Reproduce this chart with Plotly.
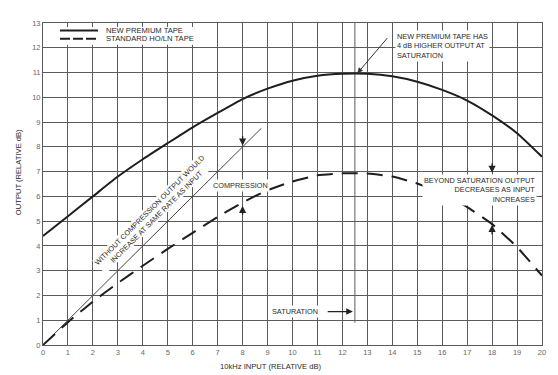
import plotly.graph_objects as go

# ---- data ----
input_db = list(range(0, 21))
premium_out = [4.4, 5.2, 6.0, 6.8, 7.5, 8.15, 8.79, 9.37, 9.93, 10.35, 10.67,
               10.87, 10.95, 10.95, 10.85, 10.63, 10.3, 9.87, 9.27, 8.55, 7.6]
standard_out = [0.0, 0.92, 1.75, 2.5, 3.2, 3.88, 4.53, 5.17, 5.75, 6.25, 6.6,
                6.85, 6.93, 6.92, 6.8, 6.52, 6.1, 5.57, 4.88, 3.95, 2.8]
linear_x = [0, 8.75]
linear_y = [0, 8.75]
saturation_x = [12.5, 12.5]
saturation_y = [0.9, 13]
x_ticks = list(range(0, 21))
y_ticks = list(range(0, 14))

FONT = "Liberation Sans, Arial, sans-serif"
INK = "#1e1e1e"
GRID = "#5a5a5a"
TXT = "#2a2a2a"

fig = go.Figure()

fig.add_trace(go.Scatter(x=saturation_x, y=saturation_y, mode="lines",
                         line=dict(color=GRID, width=1), hoverinfo="skip",
                         showlegend=False))
fig.add_trace(go.Scatter(x=linear_x, y=linear_y, mode="lines",
                         line=dict(color="#444", width=1), showlegend=False))
fig.add_trace(go.Scatter(x=input_db, y=premium_out, mode="lines",
                         name="NEW PREMIUM TAPE",
                         line=dict(color=INK, width=2, shape="spline", smoothing=0.5),
                         showlegend=False))
fig.add_trace(go.Scatter(x=input_db, y=standard_out, mode="lines",
                         name="STANDARD HO/LN TAPE",
                         line=dict(color=INK, width=2, shape="spline", smoothing=0.5,
                                   dash="16px,9px"),
                         showlegend=False))

# page body has an 8px default margin: compensate so the plot area sits
# at window pixels x 43..542, y 19..345
OFF = 8
WIN_W, WIN_H = 558, 375
W, H = WIN_W - OFF, WIN_H - OFF
L, T = 43 - OFF, 19 - OFF
R = W - (542 - OFF)
B = H - (345 - OFF)
PW, PH = W - L - R, H - T - B


def px(xw):
    return (xw - OFF - L) / PW


def py(yw):
    return (H - B - (yw - OFF)) / PH


shapes = []
# legend box
shapes.append(dict(type="rect", xref="paper", yref="paper",
                   x0=px(45), x1=px(212), y0=py(41), y1=py(23),
                   fillcolor="white", line=dict(width=0), layer="above"))
shapes.append(dict(type="line", xref="paper", yref="paper",
                   x0=px(60), x1=px(98), y0=py(26.7), y1=py(26.7),
                   line=dict(color=INK, width=2), layer="above"))
shapes.append(dict(type="line", xref="paper", yref="paper",
                   x0=px(60), x1=px(98), y0=py(35), y1=py(35),
                   line=dict(color=INK, width=2, dash="10px,3px"), layer="above"))

annotations = []


def txt(text, x, y, xref="x", yref="y", xanchor="left", yanchor="middle",
        align="left", bg="white", angle=0, size=7.3, pad=1):
    annotations.append(dict(text=text, x=x, y=y, xref=xref, yref=yref,
                            xanchor=xanchor, yanchor=yanchor, align=align,
                            showarrow=False, textangle=angle,
                            bgcolor=bg, borderpad=pad,
                            font=dict(family=FONT, size=size, color=TXT)))


# legend texts
txt("NEW PREMIUM TAPE", px(104), py(26.7), xref="paper", yref="paper", bg=None,
    size=7.6)
txt("STANDARD HO/LN TAPE", px(104), py(35), xref="paper", yref="paper", bg=None,
    size=7.6)

# top note
txt("NEW PREMIUM TAPE HAS<br>4 dB HIGHER OUTPUT AT<br>SATURATION", 14.12, 12.07)
annotations.append(dict(x=12.6, y=10.97, ax=13.85, ay=12.45, axref="x", ayref="y",
                        xref="x", yref="y", text="", showarrow=True,
                        arrowhead=2, arrowsize=1.1, arrowwidth=1, arrowcolor="#333"))

# compression
txt("COMPRESSION", 6.75, 6.42)
# beyond saturation
txt("BEYOND SATURATION OUTPUT<br>DECREASES AS INPUT<br>INCREASES", 19.78, 6.25,
    xanchor="right", align="right")
# rotated note
txt("WITHOUT COMPRESSION OUTPUT WOULD<br>INCREASE AT SAME RATE AS INPUT",
    4.42, 5.32, xanchor="center", align="center", angle=-45, pad=0)
# saturation
txt("SATURATION", 9.1, 1.35)
annotations.append(dict(x=12.42, y=1.35, ax=11.35, ay=1.35, axref="x", ayref="y",
                        xref="x", yref="y", text="", showarrow=True,
                        arrowhead=2, arrowsize=1.1, arrowwidth=1.2, arrowcolor="#222"))

# vertical marker arrows
for (x0, ytail, ytip) in [(8, 8.5, 8.05), (8, 5.2, 5.62), (18, 7.4, 6.95), (18, 4.4, 4.85)]:
    annotations.append(dict(x=x0, y=ytip, ax=x0, ay=ytail, axref="x", ayref="y",
                            xref="x", yref="y", text="", showarrow=True,
                            arrowhead=2, arrowsize=1.1, arrowwidth=1.3,
                            arrowcolor="#222"))

# axis titles
txt("OUTPUT (RELATIVE dB)", px(18), py(170), xref="paper", yref="paper",
    xanchor="center", align="center", angle=-90, bg=None, size=7.6)
txt("10kHz INPUT (RELATIVE dB)", px(270), py(367), xref="paper", yref="paper",
    xanchor="center", align="center", bg=None, size=7.6)

axis_common = dict(showgrid=True, gridcolor=GRID, gridwidth=1, zeroline=False,
                   showline=True, mirror=True, linecolor=GRID, linewidth=1,
                   ticks="", tickfont=dict(family=FONT, size=7.5, color="#666"))

fig.update_layout(
    width=W, height=H,
    margin=dict(l=L, r=R, t=T, b=B, pad=0),
    paper_bgcolor="white", plot_bgcolor="white",
    xaxis=dict(range=[0, 20], tickvals=x_ticks, ticktext=[str(v) for v in x_ticks],
               **axis_common),
    yaxis=dict(range=[0, 13], tickvals=y_ticks, ticktext=[str(v) for v in y_ticks],
               **axis_common),
    shapes=shapes,
    annotations=annotations,
    showlegend=False,
)

fig.write_html("out.html")
